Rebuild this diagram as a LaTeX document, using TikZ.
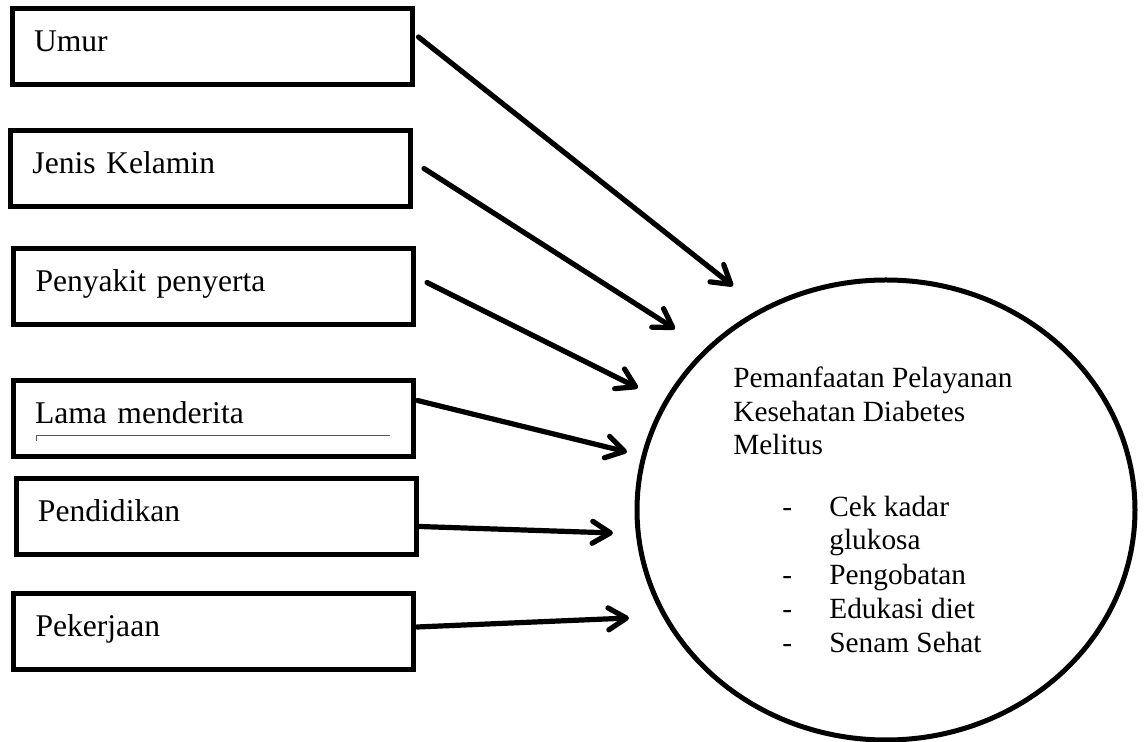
\documentclass[tikz,border=0pt]{standalone}
\usepackage{fontspec}
\setmainfont{Liberation Serif}
\usetikzlibrary{arrows.meta,shapes.geometric}
\begin{document}
\begin{tikzpicture}[x=0.5pt,y=-0.5pt,
  factor/.style={draw,line width=2.5pt,rectangle,text width=178pt,inner xsep=11pt,inner ysep=0pt,
    minimum height=38pt,align=left,text height=11pt,text depth=6pt,
    font=\fontsize{15.8pt}{18pt}\selectfont},
  link/.style={line width=2.6pt,line cap=round,-{Straight Barb[length=9pt,width=11pt,round]}},
  txt/.style={anchor=base west,inner sep=0pt,font=\fontsize{14.65pt}{17pt}\selectfont},
  outcome/.style={ellipse,draw,line width=2.5pt,minimum width=249pt,minimum height=230pt,inner sep=0pt}]
\useasboundingbox (0,0) rectangle (1147,742);

% factor boxes
\node[factor] (umur) at (212,47) {Umur};
\node[factor] (jenis) at (210.5,168.5) {Jenis Kelamin};
\node[factor] (penyakit) at (213.5,286.5) {Penyakit penyerta};
\node[factor] (lama) at (213,418.5) {Lama menderita};
\node[factor] (pendidikan) at (216,516.5) {Pendidikan};
\node[factor] (pekerjaan) at (213.5,632) {Pekerjaan};

% thin line inside "Lama menderita"
\draw[gray!70!black,line width=0.5pt] (36,441) -- (36,436) -- (390,436);

% outcome ellipse
\node[outcome] (out) at (886,510) {};

% text inside ellipse
\node[txt] (h1) at (733,388) {Pemanfaatan Pelayanan};
\node[txt] (h2) at (733,422) {Kesehatan Diabetes};
\node[txt] (h3) at (733,455) {Melitus};
\node[txt] (d1) at (782,517) {-};
\node[txt] (i1) at (829,517) {Cek kadar};
\node[txt] (i1b) at (829,550) {glukosa};
\node[txt] (d2) at (782,585) {-};
\node[txt] (i2) at (829,585) {Pengobatan};
\node[txt] (d3) at (782,619) {-};
\node[txt] (i3) at (829,619) {Edukasi diet};
\node[txt] (d4) at (782,653) {-};
\node[txt] (i4) at (829,653) {Senam Sehat};

% arrow end points
\coordinate (t1) at (733,286);
\coordinate (t2) at (675,329);
\coordinate (t3) at (638,388);
\coordinate (t4) at (627,452);
\coordinate (t5) at (613,533);
\coordinate (t6) at (629,618);

% arrows
\draw[link] ([xshift=2pt,yshift=5pt]umur.east) -- (t1);
\draw[link] ([xshift=5.5pt]jenis.east) -- (t2);
\draw[link] ([xshift=5.5pt,yshift=2pt]penyakit.east) -- (t3);
\draw[link] ([xshift=1pt,yshift=9pt]lama.east) -- (t4);
\draw[link] ([xshift=0.5pt,yshift=-5pt]pendidikan.east) -- (t5);
\draw[link] ([xshift=0.5pt,yshift=2.5pt]pekerjaan.east) -- (t6);
\end{tikzpicture}
\end{document}
